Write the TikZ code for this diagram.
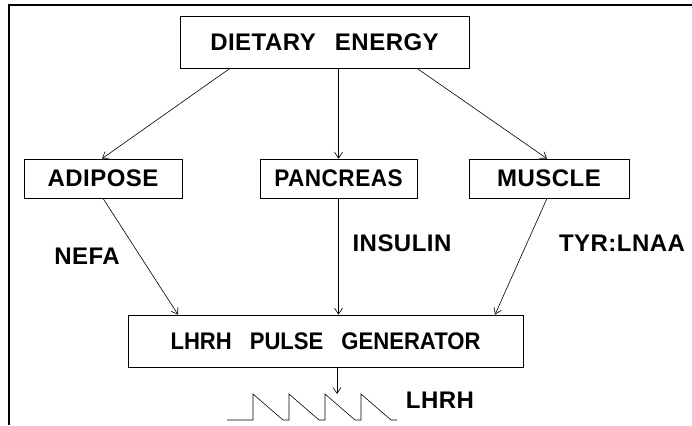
\documentclass[tikz,border=0pt]{standalone}
\usepackage{fontspec}
\setmainfont{Liberation Sans}
\newfontfamily\boxfont{Liberation Sans}[LetterSpace=2]
\usetikzlibrary{arrows.meta}

\begin{document}
\begin{tikzpicture}[x=1pt,y=-1pt,
  box/.style={draw,line width=0.7pt,inner sep=0pt,minimum height=39pt},
  lbl/.style={font=\boxfont\fontsize{24}{26}\selectfont\bfseries},
  arr/.style={-{Straight Barb[length=6pt,width=8pt]},line width=0.6pt}]

\useasboundingbox (0,0) rectangle (692,425);

%frame:
\draw[line width=1.6pt] (692,5) -- (9,5) -- (9,425);

%boxes
\node[box,lbl,minimum width=289pt,minimum height=52pt] (energy) at (324.5,42) {DIETARY\hspace{0.8em}ENERGY};
\node[box,lbl,minimum width=158pt] (adipose) at (103,178.5) {ADIPOSE};
\node[box,lbl,minimum width=157pt] (pancreas) at (338.5,178.5) {\addfontfeature{FakeStretch=0.94}PANCREAS};
\node[box,lbl,minimum width=160pt] (muscle) at (549,178.5) {MUSCLE};
\node[box,lbl,minimum width=395pt,minimum height=52pt] (pulse) at (325.5,341)
  {\addfontfeature{FakeStretch=0.92,LetterSpace=0}LHRH\hspace{0.75em}PULSE\hspace{0.75em}GENERATOR};

%signals
\node[lbl] (nefa) at (87,256) {NEFA};
\node[lbl] (insulin) at (402,243) {INSULIN};
\node[lbl] (tyr) at (622,243) {TYR:LNAA};
\node[lbl] (lhrh) at (440,400) {LHRH};

%energy to tissues
\draw[arr] ([xshift=-94.5pt]energy.south) -- ([xshift=-1pt]adipose.north);
\draw[arr] (pancreas.north |- energy.south) -- (pancreas.north);
\draw[arr] ([xshift=92.5pt]energy.south) -- ([xshift=-2pt]muscle.north);

%tissues to generator
\draw[arr] (adipose.south) -- ([xshift=-147.5pt]pulse.north);
\draw[arr] (pancreas.south) -- (pancreas.south |- pulse.north);
\draw[arr] ([xshift=-2pt]muscle.south) -- ([xshift=169.5pt]pulse.north);

%pulses
\coordinate (tip) at (337,394);
\draw[arr] (tip |- pulse.south) -- (tip);
\draw[line width=0.6pt] (227,420) foreach \i in {0,...,3} {
  -- (253+36*\i,420) -- (253+36*\i,394) -- (283+36*\i,420) } -- (397,420);

\end{tikzpicture}
\end{document}
